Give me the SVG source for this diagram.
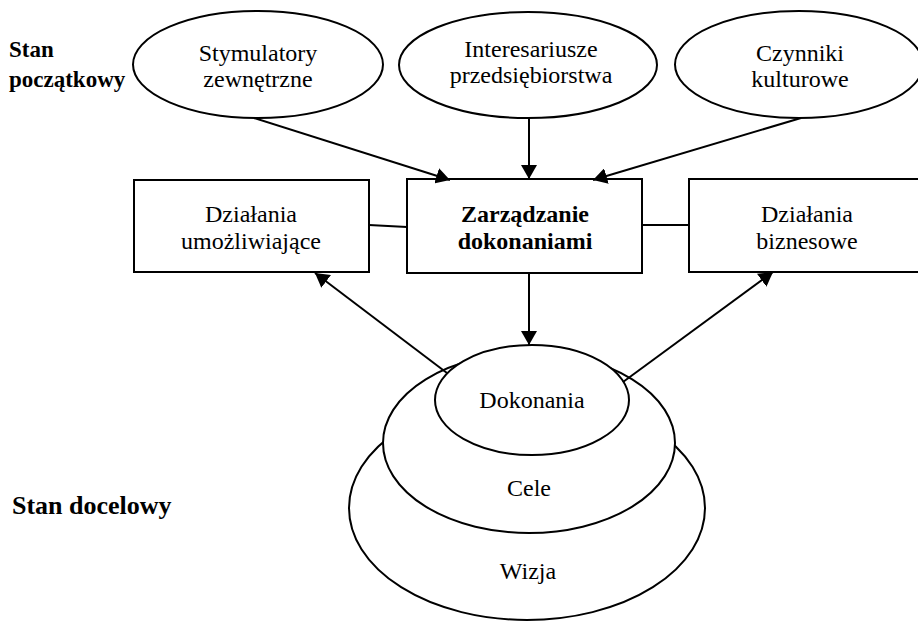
<svg xmlns="http://www.w3.org/2000/svg" width="918" height="622" viewBox="0 0 918 622">
<style>
.s{fill:#fff;stroke:#000;stroke-width:2}
.t{font-family:'Liberation Serif','Tinos','Times New Roman','DejaVu Serif',serif;font-size:24px;fill:#000;text-anchor:middle}
.b{font-weight:bold}
.l{font-family:'Liberation Serif','Tinos','Times New Roman','DejaVu Serif',serif;font-weight:bold;fill:#000}
.c{stroke:#000;stroke-width:2;fill:none}
</style>
<defs>
<marker id="ah" viewBox="0 0 14 16" refX="14" refY="8" markerWidth="14" markerHeight="16" markerUnits="userSpaceOnUse" orient="auto">
<path d="M0,0 L14,8 L0,16 z" fill="#000"/>
</marker>
</defs>
<rect width="918" height="622" fill="#fff"/>
<g id="label-start"><text class="l" font-size="23" x="9" y="57">Stan</text><text class="l" font-size="23" x="9" y="87">początkowy</text></g>
<g id="label-end"><text class="l" font-size="26" x="12" y="514">Stan docelowy</text></g>
<g id="stymulatory"><ellipse class="s" cx="258" cy="64.5" rx="125" ry="53.5"/><text class="t" x="258" y="61">Stymulatory</text><text class="t" x="258" y="87">zewnętrzne</text></g>
<g id="interesariusze"><ellipse class="s" cx="528" cy="65" rx="129" ry="53"/><text class="t" x="531" y="57">Interesariusze</text><text class="t" x="531" y="83">przedsiębiorstwa</text></g>
<g id="czynniki"><ellipse class="s" cx="799" cy="64.5" rx="124" ry="53.5"/><text class="t" x="800" y="61">Czynniki</text><text class="t" x="800" y="87">kulturowe</text></g>
<g id="dzialania-umozliwiajace"><rect class="s" x="134" y="180" width="235" height="92"/><text class="t" x="251" y="222">Działania</text><text class="t" x="251" y="249">umożliwiające</text></g>
<g id="zarzadzanie"><rect class="s" x="407" y="179" width="235" height="94"/><text class="t b" x="525" y="222">Zarządzanie</text><text class="t b" x="525" y="249">dokonaniami</text></g>
<g id="dzialania-biznesowe"><rect class="s" x="689" y="179" width="237" height="93"/><text class="t" x="807" y="222">Działania</text><text class="t" x="807" y="249">biznesowe</text></g>
<g id="wizja"><ellipse class="s" cx="527" cy="508" rx="178" ry="112"/><text class="t" x="528" y="579">Wizja</text></g>
<g id="cele"><ellipse class="s" cx="529" cy="443" rx="146" ry="90"/><text class="t" x="529" y="496">Cele</text></g>
<g id="dokonania"><ellipse class="s" cx="532" cy="400" rx="97" ry="55"/><text class="t" x="532" y="408">Dokonania</text></g>
<g id="connectors">
<line class="c" x1="254" y1="118" x2="450" y2="180" marker-end="url(#ah)"/>
<line class="c" x1="529" y1="118" x2="529" y2="179" marker-end="url(#ah)"/>
<line class="c" x1="801" y1="118" x2="593" y2="180" marker-end="url(#ah)"/>
<line class="c" x1="529" y1="273" x2="529" y2="345" marker-end="url(#ah)"/>
<line class="c" x1="447" y1="373" x2="315" y2="273" marker-end="url(#ah)"/>
<line class="c" x1="623" y1="382" x2="773" y2="272" marker-end="url(#ah)"/>
<line class="c" x1="369" y1="225" x2="407" y2="227"/>
<line class="c" x1="642" y1="225" x2="689" y2="225"/>
</g>
</svg>
